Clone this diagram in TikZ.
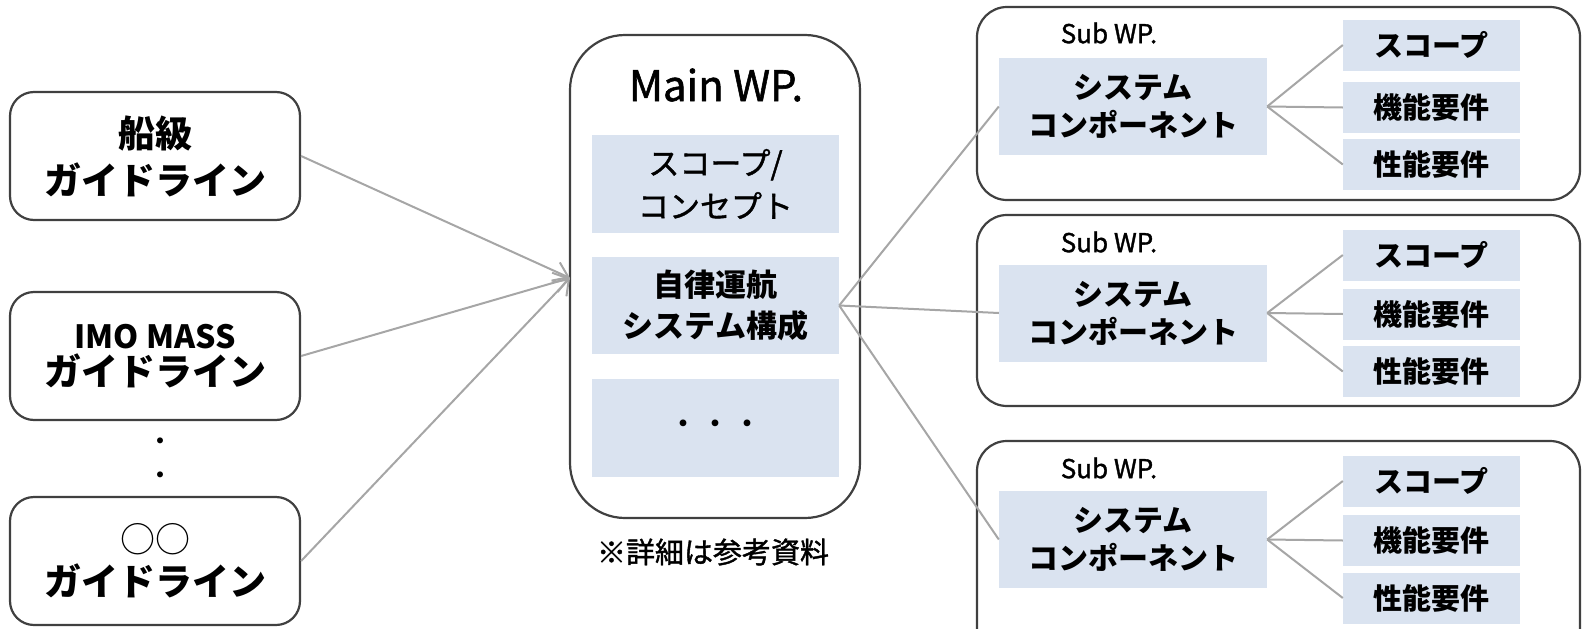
\documentclass[tikz,border=0pt]{standalone}
\usepackage{fontspec}
\setmainfont{Noto Sans CJK JP}
\newfontfamily\medium{Noto Sans CJK JP}[FakeBold=1.3]
\usetikzlibrary{arrows.meta}
\definecolor{edge}{HTML}{404040}
\definecolor{wire}{HTML}{A6A6A6}
\definecolor{pale}{HTML}{DAE3F0}
\newcommand{\fs}[2]{\fontsize{#1}{#2}\selectfont}
\tikzset{
  guide/.style={draw=edge, line width=2.2pt, rounded corners=24pt, fill=white,
    minimum width=290pt, minimum height=128pt, align=center, inner sep=0pt},
  mainwp/.style={draw=edge, line width=2.2pt, rounded corners=55pt, fill=white},
  subwp/.style={draw=edge, line width=2.2pt, rounded corners=30pt, fill=white},
  cell/.style={fill=pale, draw=none, align=center, inner sep=0pt},
  comp/.style={cell, minimum width=268pt, minimum height=97pt, font=\bfseries\fs{30}{38}},
  item/.style={cell, minimum width=177pt, minimum height=51pt, font=\bfseries\fs{29}{34}},
  conn/.style={draw=wire, line width=2pt},
  feed/.style={conn, -{Straight Barb[length=14pt, width=20pt, line width=2pt]}},
  label/.style={inner sep=0pt, align=center}
}
\begin{document}
\begin{tikzpicture}[x=1pt, y=-1pt]
\useasboundingbox (0,0) rectangle (1582,629);
\clip (0,0) rectangle (1582,629);

% source guidelines
\node[guide, font=\bfseries\fs{37}{47}] (g1) at (155,156) {船級\\ガイドライン};
\node[guide, font=\bfseries\fs{37}{37}] (g2) at (155,356) {{\fs{32}{37}IMO MASS}\\ガイドライン};
\node[guide, font=\bfseries\fs{37}{43}] (g3) at (155,561) {{\mdseries\fs{35}{43}○○}\\ガイドライン};
\node[label, font=\fs{28}{34}] (gdots) at (160,462) {・\\・};

% main work package
\node[mainwp, minimum width=290pt, minimum height=483pt] (main) at (715,276.5) {};
\node[label, font=\medium\fs{42}{48}] (maintitle) at (716,85) {Main WP.};
\node[cell, minimum width=247pt, minimum height=98pt, font=\medium\fs{31}{43}] (scope) at (715.5,184) {スコープ/\\コンセプト};
\node[cell, minimum width=247pt, minimum height=97pt, font=\bfseries\fs{31}{41}] (arch) at (715.5,305.5) {自律運航\\システム構成};
\node[cell, minimum width=247pt, minimum height=98pt, font=\fs{32}{36}] (more) at (715.5,428) {・・・};
\node[label, font=\medium\fs{29}{34}] (note) at (713,552) {※詳細は参考資料};

% sub work packages
\node[subwp, minimum width=603pt, minimum height=193pt] (s1) at (1278.5,103.5) {};
\node[subwp, minimum width=603pt, minimum height=191pt] (s2) at (1278.5,310.5) {};
\node[subwp, minimum width=603pt, minimum height=220pt] (s3) at (1278.5,551) {};

\node[label, font=\medium\fs{26}{30}] (t1) at (1109,33) {Sub WP.};
\node[label, font=\medium\fs{26}{30}] (t2) at (1109,242) {Sub WP.};
\node[label, font=\medium\fs{26}{30}] (t3) at (1109,468) {Sub WP.};

\node[comp] (c1) at (1133,106.5) {システム\\コンポーネント};
\node[comp] (c2) at (1133,313) {システム\\コンポーネント};
\node[comp] (c3) at (1133,539.5) {システム\\コンポーネント};

\node[item] (a1) at (1431.5,45) {スコープ};
\node[item] (b1) at (1431.5,107.5) {機能要件};
\node[item] (d1) at (1431.5,164.5) {性能要件};
\node[item] (a2) at (1431.5,255) {スコープ};
\node[item] (b2) at (1431.5,314) {機能要件};
\node[item] (d2) at (1431.5,371.5) {性能要件};
\node[item] (a3) at (1431.5,481) {スコープ};
\node[item] (b3) at (1431.5,540.5) {機能要件};
\node[item] (d3) at (1431.5,598) {性能要件};

% inputs into the main work package
\coordinate (tip) at (570,278);
\draw[feed] (g1.east) -- (tip);
\draw[feed] (g2.east) -- (tip);
\draw[feed] (g3.east) -- (tip);

% breakdown into sub work packages
\draw[conn] (arch.east) -- (c1.west);
\draw[conn] (arch.east) -- (c2.west);
\draw[conn] (arch.east) -- (c3.west);

\foreach \k in {1,2,3}{
  \draw[conn] (c\k.east) -- (a\k.west);
  \draw[conn] (c\k.east) -- (b\k.west);
  \draw[conn] (c\k.east) -- (d\k.west);
}
\end{tikzpicture}
\end{document}
